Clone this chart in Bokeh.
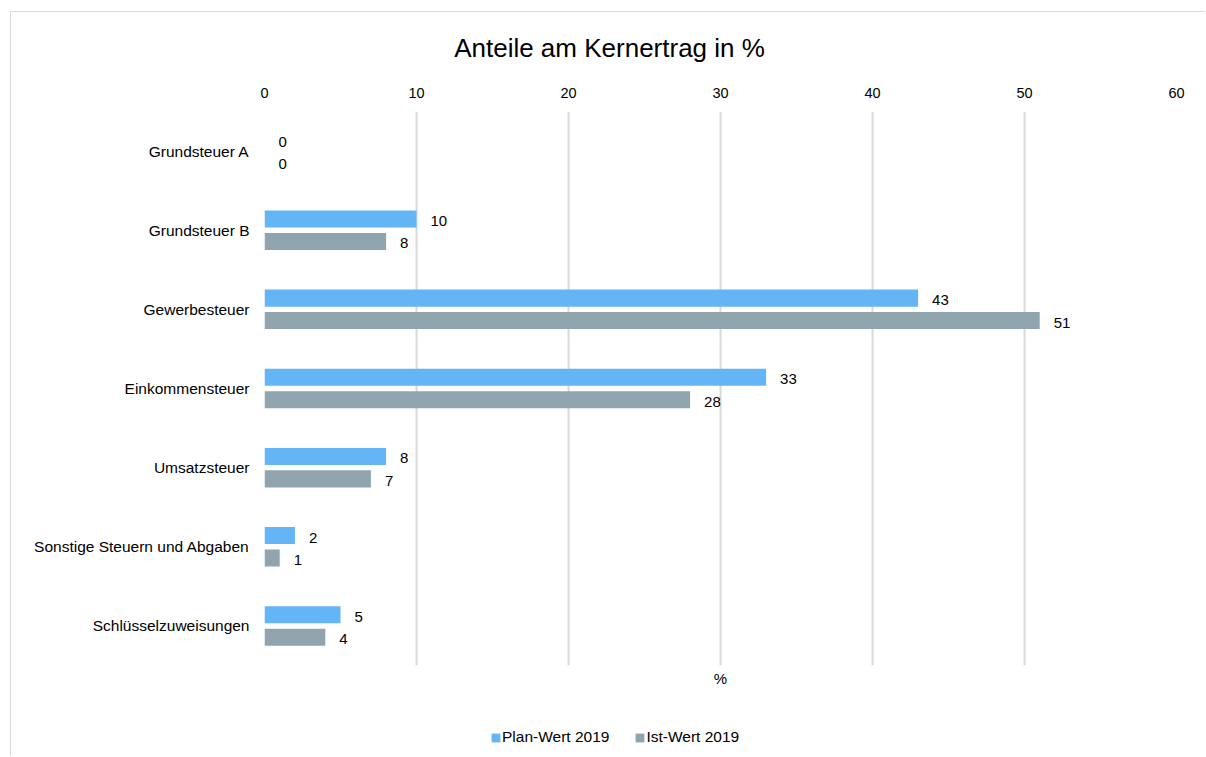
from bokeh.plotting import figure
from bokeh.layouts import column
from bokeh.models import (FactorRange, Range1d, Legend, LegendItem, Label,
                          ColumnDataSource, FixedTicker, LinearAxis)
from bokeh.transform import dodge
from bokeh.core.properties import value
from bokeh.embed import file_html
from bokeh.resources import INLINE

# ---- data ----
categories = ["Grundsteuer A", "Grundsteuer B", "Gewerbesteuer", "Einkommensteuer",
              "Umsatzsteuer", "Sonstige Steuern und Abgaben", "Schlüsselzuweisungen"]
plan = [0, 10, 43, 33, 8, 2, 5]
ist = [0, 8, 51, 28, 7, 1, 4]
series_names = ["Plan-Wert 2019", "Ist-Wert 2019"]
x_ticks = [0, 10, 20, 30, 40, 50, 60]
title_text = "Anteile am Kernertrag in %"
x_title = "%"

BLUE = "#64B5F6"
GRAY = "#90A4AE"
FONT = "Liberation Sans"
GRID = "#D9D9D9"

src = ColumnDataSource(dict(
    cat=categories, plan=plan, ist=ist,
    plan_txt=[str(v) for v in plan], ist_txt=[str(v) for v in ist],
))

W = 1194

# ---- title strip ----
tf = figure(width=W, height=60, title=None, output_backend="svg",
            x_range=Range1d(0, 1), y_range=Range1d(0, 1),
            toolbar_location=None, x_axis_location=None, y_axis_location=None,
            min_border_left=0, min_border_right=0, min_border_top=0, min_border_bottom=0)
tf.outline_line_color = None
tf.xgrid.visible = False
tf.ygrid.visible = False
tf.add_layout(Label(x=345, y=25, x_units="screen", y_units="screen", text=title_text,
                    text_align="center", text_baseline="alphabetic",
                    text_font=FONT, text_font_size="26px", text_color="#000000"))

# ---- main chart ----
p = figure(width=W, height=640, title=None,
           y_range=FactorRange(factors=list(reversed(categories))),
           x_range=Range1d(0, 60), x_axis_location="above",
           output_backend="svg", toolbar_location=None,
           min_border_left=253, min_border_right=29,
           min_border_top=39, min_border_bottom=47)
p.outline_line_color = None
p.background_fill_color = "white"
p.border_fill_color = "white"

off = 0.142
bh = 0.215
r1 = p.hbar(y=dodge("cat", off, range=p.y_range), left=0, right="plan", height=bh,
            fill_color=BLUE, line_color=None, source=src)
r2 = p.hbar(y=dodge("cat", -off, range=p.y_range), left=0, right="ist", height=bh,
            fill_color=GRAY, line_color=None, source=src)

p.text(x="plan", y=dodge("cat", off, range=p.y_range), text="plan_txt", source=src,
       x_offset=14, y_offset=2, text_align="left", text_baseline="middle",
       text_font=value(FONT), text_font_size="15px", text_color="#000000")
p.text(x="ist", y=dodge("cat", -off, range=p.y_range), text="ist_txt", source=src,
       x_offset=14, y_offset=2, text_align="left", text_baseline="middle",
       text_font=value(FONT), text_font_size="15px", text_color="#000000")

xa = p.xaxis[0]
xa.ticker = FixedTicker(ticks=x_ticks)
xa.axis_line_color = None
xa.major_tick_line_color = None
xa.minor_tick_line_color = None
xa.major_tick_out = 0
xa.major_tick_in = 0
xa.major_label_standoff = 14
xa.major_label_text_font = FONT
xa.major_label_text_font_size = "14.5px"
xa.major_label_text_color = "#000000"

ya = p.yaxis[0]
ya.axis_line_color = None
ya.major_tick_line_color = None
ya.minor_tick_line_color = None
ya.major_tick_out = 0
ya.major_tick_in = 0
ya.major_label_standoff = 15
ya.major_label_text_font = FONT
ya.major_label_text_font_size = "15.5px"
ya.major_label_text_color = "#000000"

bx = LinearAxis(ticker=FixedTicker(ticks=[]), axis_label=x_title,
                axis_line_color=None, major_tick_line_color=None,
                minor_tick_line_color=None, major_tick_out=0, major_tick_in=0,
                minor_tick_out=0, minor_tick_in=0,
                axis_label_standoff=4, axis_label_text_font=FONT,
                axis_label_text_font_size="15px", axis_label_text_font_style="normal",
                axis_label_text_color="#000000")
p.add_layout(bx, "below")

p.xgrid.ticker = FixedTicker(ticks=x_ticks)
p.xgrid.grid_line_color = GRID
p.xgrid.grid_line_width = 2
p.ygrid.visible = False

# ---- legend strip (its renderers map to no visible factor) ----
lg = figure(width=W, height=44, title=None, output_backend="svg",
            y_range=FactorRange(factors=series_names),
            x_range=Range1d(0, 60),
            toolbar_location=None, x_axis_location=None, y_axis_location=None,
            min_border_left=0, min_border_right=0, min_border_top=0, min_border_bottom=0)
lg.outline_line_color = None
lg.xgrid.visible = False
lg.ygrid.visible = False
l1 = lg.hbar(y="cat", left=0, right="plan", height=bh, fill_color=BLUE,
             line_color=None, source=src)
l2 = lg.hbar(y="cat", left=0, right="ist", height=bh, fill_color=GRAY,
             line_color=None, source=src)
legend = Legend(items=[LegendItem(label=series_names[0], renderers=[l1]),
                       LegendItem(label=series_names[1], renderers=[l2])],
                orientation="horizontal", location=(226, 10),
                glyph_width=11, glyph_height=11, label_standoff=1, spacing=25,
                padding=0, margin=0, border_line_color=None,
                background_fill_alpha=0,
                label_text_font=FONT, label_text_font_size="15.5px",
                label_text_color="#000000")
lg.add_layout(legend, "center")

layout = column(tf, p, lg, spacing=0)
layout.styles = {"border-top": "1px solid #D9D9D9", "border-left": "1px solid #D9D9D9",
                 "margin-left": "10px", "margin-top": "11px"}

open("out.html", "w").write(file_html(layout, INLINE))
